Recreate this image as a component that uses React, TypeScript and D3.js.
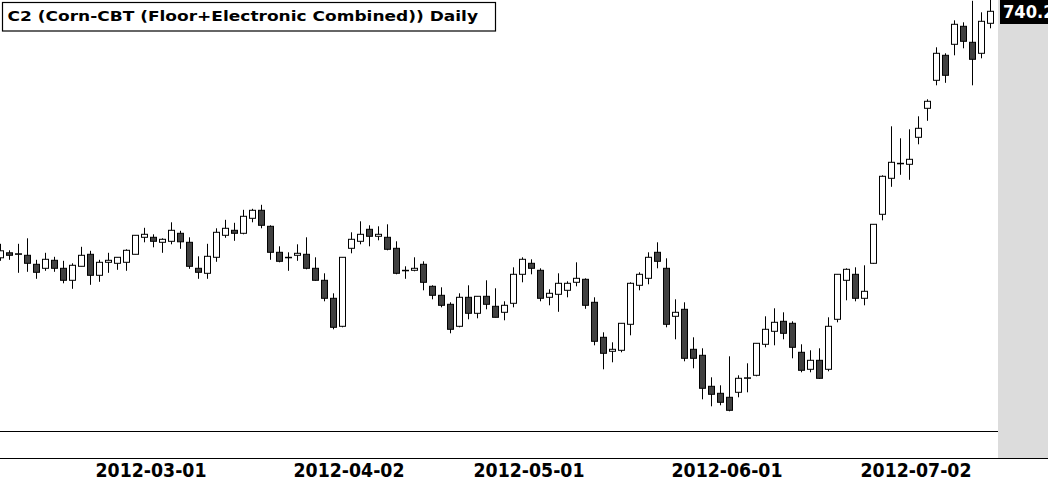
import React from "react";
import * as d3 from "d3";

const dates: string[] = [
  "2012-02-06","2012-02-07","2012-02-08","2012-02-09","2012-02-10","2012-02-13","2012-02-14","2012-02-15","2012-02-16","2012-02-17",
  "2012-02-21","2012-02-22","2012-02-23","2012-02-24","2012-02-27","2012-02-28","2012-02-29",
  "2012-03-01","2012-03-02","2012-03-05","2012-03-06","2012-03-07","2012-03-08","2012-03-09","2012-03-12","2012-03-13","2012-03-14",
  "2012-03-15","2012-03-16","2012-03-19","2012-03-20","2012-03-21","2012-03-22","2012-03-23","2012-03-26","2012-03-27","2012-03-28",
  "2012-03-29","2012-03-30",
  "2012-04-02","2012-04-03","2012-04-04","2012-04-05","2012-04-09","2012-04-10","2012-04-11","2012-04-12","2012-04-13","2012-04-16",
  "2012-04-17","2012-04-18","2012-04-19","2012-04-20","2012-04-23","2012-04-24","2012-04-25","2012-04-26","2012-04-27","2012-04-30",
  "2012-05-01","2012-05-02","2012-05-03","2012-05-04","2012-05-07","2012-05-08","2012-05-09","2012-05-10","2012-05-11","2012-05-14",
  "2012-05-15","2012-05-16","2012-05-17","2012-05-18","2012-05-21","2012-05-22","2012-05-23","2012-05-24","2012-05-25","2012-05-29",
  "2012-05-30","2012-05-31",
  "2012-06-01","2012-06-04","2012-06-05","2012-06-06","2012-06-07","2012-06-08","2012-06-11","2012-06-12","2012-06-13","2012-06-14",
  "2012-06-15","2012-06-18","2012-06-19","2012-06-20","2012-06-21","2012-06-22","2012-06-25","2012-06-26","2012-06-27","2012-06-28",
  "2012-06-29",
  "2012-07-02","2012-07-03","2012-07-05","2012-07-06","2012-07-09","2012-07-10","2012-07-11","2012-07-12","2012-07-13",
];

const opens: number[] = [
  617, 619.5, 619, 618.25, 613.75, 611.75, 615.75, 611.75, 605.75, 612.75,
  618.75, 608.25, 614.75, 614.25, 614.75, 618.75, 627.25, 627.25, 624.75, 625.25,
  629.25, 624.75, 611.75, 609.25, 617.25, 628.25, 630.75, 629.25, 636.75, 640.75,
  632.75, 619.75, 617.25, 618.25, 618.75, 611.75, 605.75, 596.75, 582.75, 621.75,
  625.25, 631.25, 627.75, 627.25, 621.75, 610.75, 610.75, 613.75, 602.75, 598.25,
  593.75, 582.75, 597.25, 589.25, 597.75, 592.75, 589.75, 594.25, 608.75, 614.25,
  610.75, 597.25, 598.75, 600.75, 604.75, 606.25, 594.75, 577.25, 570.25, 570.75,
  583.75, 603.25, 606.75, 619.75, 611.75, 587.75, 591.25, 571.25, 568.25, 552.75,
  549.25, 547.25, 549.75, 556.75, 558.25, 573.75, 580.25, 585.25, 584.25, 569.75,
  561.25, 565.75, 561.25, 586.25, 605.75, 608.75, 596.75, 614.25, 638.75, 656.75,
  664.25, 663.75, 677.25, 691.75, 705.75, 718.25, 723.75, 732.75, 724.75, 719.25,
  734.25,
];

const highs: number[] = [
  624, 620.75, 624, 626.75, 616, 619.5, 617.5, 615.5, 614.25, 622.5,
  620.5, 616, 619.5, 617.25, 621.25, 628.25, 632, 628.75, 626.75, 634.75,
  630.5, 627.25, 617.75, 624, 631.75, 636, 634.5, 641, 641.5, 643.5,
  633.25, 622.75, 619.75, 623.75, 627.25, 617.25, 609.25, 599.25, 617.25, 629.75,
  635.25, 633.25, 632.75, 633.75, 625.25, 612.75, 617.25, 615.25, 603.25, 602.25,
  594.75, 599.25, 603.25, 597.75, 605.75, 601.75, 595.25, 612.25, 617.25, 616.25,
  611.75, 601.25, 609.25, 605.25, 614.75, 606.75, 597.25, 579.75, 574.75, 584.25,
  604.75, 609.75, 619.75, 624.75, 616.75, 596.25, 594.75, 577.25, 571.75, 557.25,
  553.25, 567.75, 558.25, 564.25, 574.25, 587.75, 591.75, 589.75, 585.25, 573.75,
  570.75, 571.75, 587.25, 608.75, 611.75, 612.25, 613.25, 633.75, 658.25, 682.75,
  676.75, 681.25, 687.75, 696.25, 722.25, 719.25, 735.75, 734.75, 745.5, 739.75,
  748,
];

const lows: number[] = [
  615.5, 616, 609.5, 610, 606.5, 610.5, 610, 604.25, 601.5, 612.75,
  603.5, 605, 609.5, 611, 610.5, 618.75, 624.75, 622.25, 619.5, 623.75,
  621.5, 611.5, 606.5, 606.5, 615, 627, 625.5, 628.75, 634.75, 631.75,
  616, 614.75, 610.5, 615.5, 611.25, 605.5, 595.25, 581.25, 582.25, 619.25,
  623.75, 622.75, 625.75, 620.75, 608.75, 606.5, 610.25, 600.75, 596.25, 592.25,
  579.25, 582.25, 586.25, 586.75, 591.25, 587.25, 585.75, 592.25, 604.75, 608.75,
  595.25, 593.25, 590, 597.25, 602.75, 591.5, 573.25, 561.25, 564.75, 569.75,
  578.25, 600.75, 603.75, 611.75, 582.25, 576.25, 565.25, 561.75, 546.25, 542.75,
  543.25, 540.25, 547.25, 549.75, 557.75, 572.25, 573.25, 576.25, 566.75, 559.75,
  559.75, 556.5, 560.25, 584.75, 595.75, 595.25, 593.25, 614, 635.75, 652.5,
  658.5, 656, 673.75, 685.5, 703.25, 704.5, 718.25, 721.75, 703.25, 716.75,
  731.75,
];

const closes: number[] = [
  620.5, 618.25, 618.75, 614.25, 609.75, 616.25, 611.75, 605.75, 613.25, 618.25,
  608.25, 614.75, 615.75, 617.25, 620.75, 628.25, 628.75, 625.25, 626.25, 630.75,
  625, 612.75, 609.75, 617.75, 629.75, 631.75, 629.25, 637.75, 640.75, 633.25,
  619.75, 615.25, 617, 619.25, 611.75, 605.75, 596.75, 582.25, 617.25, 626.25,
  628.75, 627.75, 628.75, 621.25, 609.25, 610.5, 611.75, 604.75, 598.25, 593.25,
  581.25, 597.25, 589.25, 597.75, 593.75, 587.25, 593.25, 608.75, 616.25, 611.75,
  596.75, 599.25, 604.25, 604.25, 606.75, 593.25, 575.25, 569.25, 571.25, 584.25,
  604.25, 608.75, 617.25, 615.25, 583.75, 589.75, 566.75, 566.75, 551.75, 548.75,
  544.75, 540.75, 556.75, 557, 574.25, 581.25, 584.75, 579.25, 572.25, 560.75,
  565.75, 556.75, 582.75, 608.75, 611.25, 596.75, 600.25, 633.75, 657.75, 664.75,
  664, 666.25, 681.75, 695.25, 719.25, 708.25, 733.75, 725.25, 716.25, 735.25,
  740.25,
];

const tickDates: string[] = ["2012-03-01", "2012-04-02", "2012-05-01", "2012-06-01", "2012-07-02"];

const titleText = "C2 (Corn-CBT (Floor+Electronic Combined)) Daily";

const W = 1048;
const H = 478;
const plotRight = 998;
const plotBottom = 431;
const axisLine = 458;
const step = 9;
const firstX = 0.5;
const bodyW = 6;

export default function App() {
  const x = d3
    .scalePoint<string>()
    .domain(dates)
    .range([firstX, firstX + step * (dates.length - 1)]);
  const y = d3.scaleLinear().domain([530.4, 745.9]).range([plotBottom, 0]);

  const candles = dates.map((d, i) => ({
    d,
    o: opens[i],
    h: highs[i],
    l: lows[i],
    c: closes[i],
  }));

  const last = closes[closes.length - 1];

  return (
    <svg
      width={W}
      height={H}
      style={{ position: "absolute", left: 0, top: 0, display: "block", background: "#fff" }}
    >
      <defs>
        <clipPath id="plot">
          <rect x={0} y={0} width={plotRight} height={plotBottom} />
        </clipPath>
      </defs>
      <rect x={0} y={0} width={W} height={H} fill="#fff" />
      <rect x={plotRight} y={0} width={W - plotRight} height={axisLine} fill="#dcdcdc" />
      <line x1={0} x2={plotRight} y1={plotBottom + 0.5} y2={plotBottom + 0.5} stroke="#000" strokeWidth={1} />
      <line x1={0} x2={W} y1={axisLine + 0.5} y2={axisLine + 0.5} stroke="#000" strokeWidth={1} />

      <g clipPath="url(#plot)">
        {candles.map((k) => {
          const cx = x(k.d) as number;
          const up = k.c >= k.o;
          const top = y(Math.max(k.o, k.c));
          const bot = y(Math.min(k.o, k.c));
          return (
            <g key={k.d}>
              <line x1={cx} x2={cx} y1={y(k.h)} y2={y(k.l)} stroke="#000" strokeWidth={1} />
              <rect
                x={cx - bodyW / 2}
                y={top}
                width={bodyW}
                height={Math.max(bot - top, 0.5)}
                fill={up ? "#ffffff" : "#404040"}
                stroke="#000"
                strokeWidth={1}
              />
            </g>
          );
        })}
      </g>

      <rect x={1000} y={0} width={60} height={24} fill="#000" />
      <text
        x={1003}
        y={17.5}
        fill="#fff"
        fontFamily="DejaVu Sans"
        fontWeight="bold"
        fontSize={18}
        textLength={63}
        lengthAdjust="spacingAndGlyphs"
      >
        {last.toFixed(2)}
      </text>

      <rect x={2.5} y={2.5} width={493} height={28.5} fill="#fff" stroke="#000" strokeWidth={1.2} />
      <text
        x={7.5}
        y={20.8}
        fill="#000"
        fontFamily="DejaVu Sans"
        fontWeight="bold"
        fontSize={14.7}
        textLength={470.5}
        lengthAdjust="spacingAndGlyphs"
      >
        {titleText}
      </text>

      {tickDates.map((t) => (
        <text
          key={t}
          x={(x(t) as number) - 2.5}
          y={476.7}
          textAnchor="middle"
          fill="#000"
          fontFamily="DejaVu Sans"
          fontWeight="bold"
          fontSize={19}
          textLength={111}
          lengthAdjust="spacingAndGlyphs"
        >
          {t}
        </text>
      ))}
    </svg>
  );
}
